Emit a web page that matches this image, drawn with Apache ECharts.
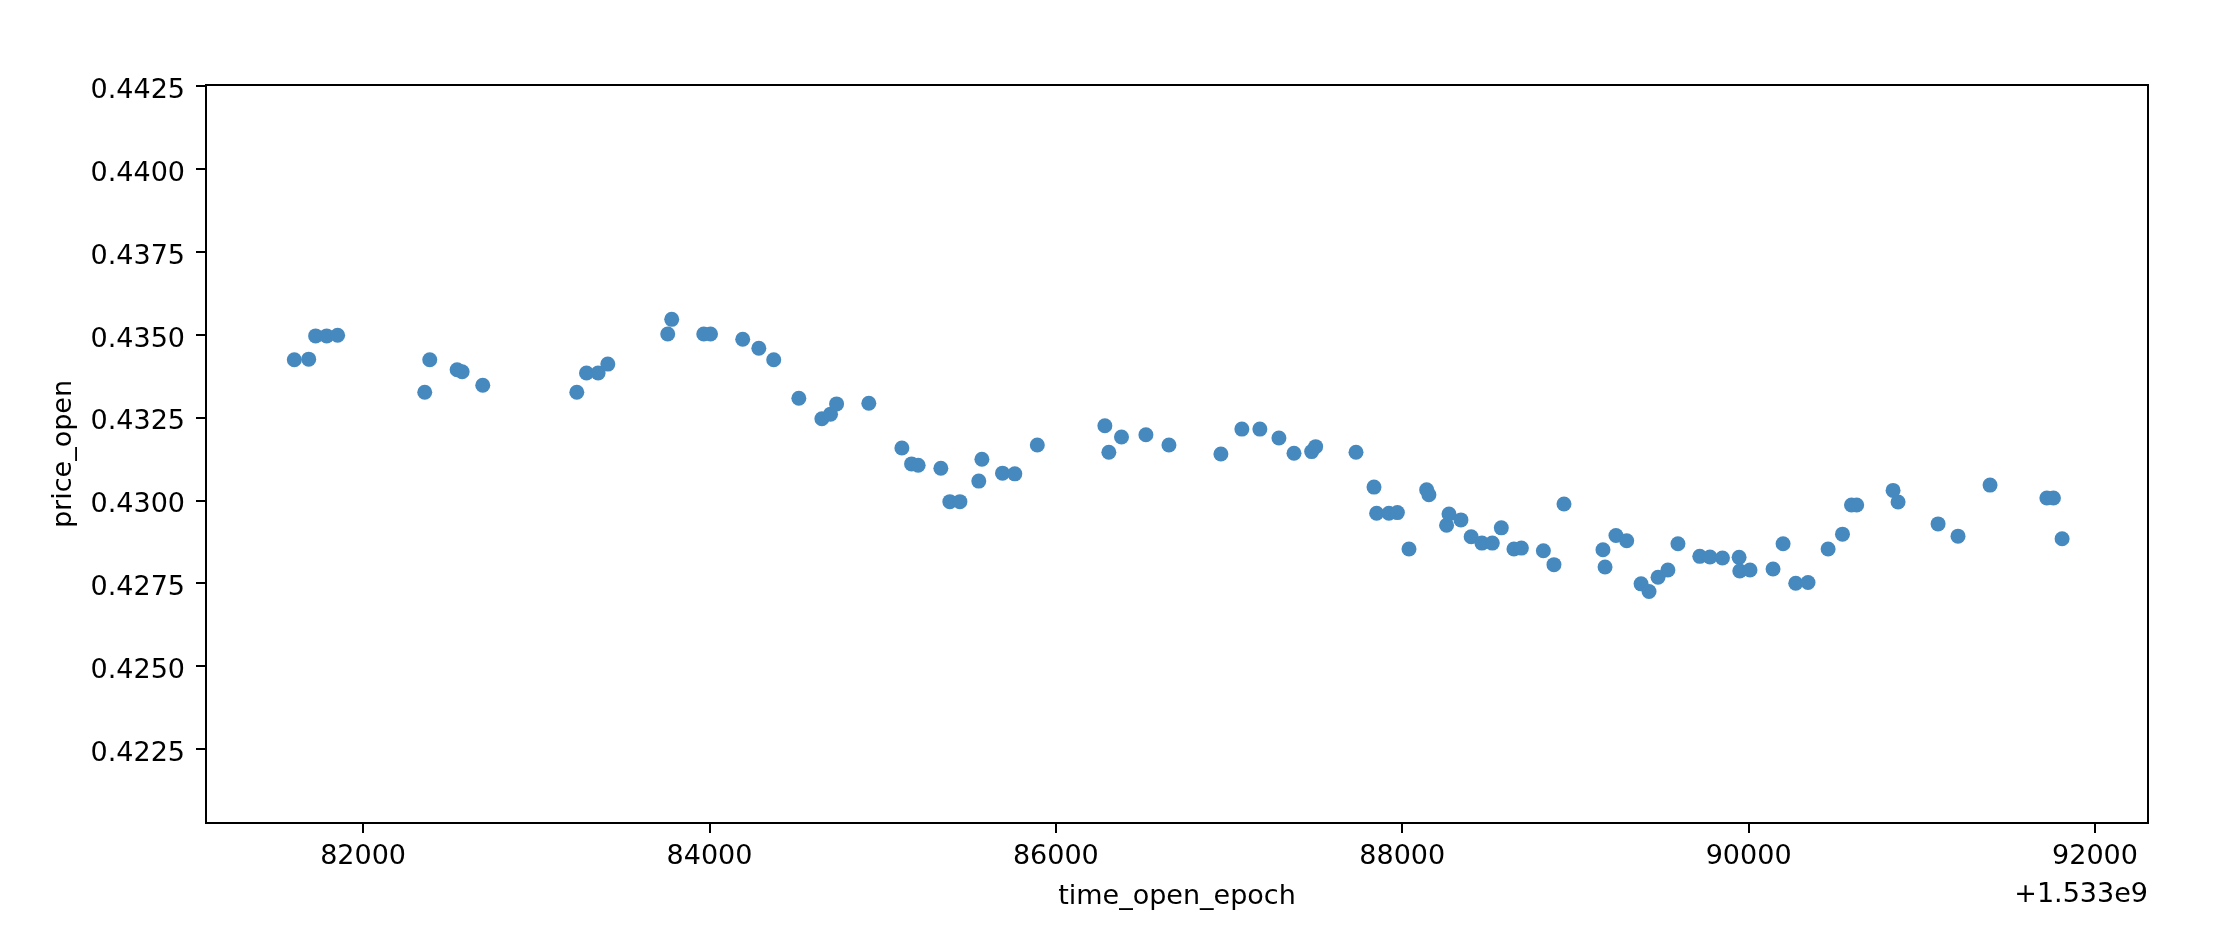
<!DOCTYPE html>
<html lang="en">

<head>
    <meta charset="UTF-8">
    <title>price_open vs time_open_epoch</title>
    <style>
        html,
        body {
            margin: 0;
            padding: 0;
            background: #fff;
        }

        .box {
            width: 2214px;
            height: 930px;
        }
    </style>
</head>

<body>
    <div class="box"></div>

    <script src="https://cdn.jsdelivr.net/npm/echarts@6/dist/echarts.min.js"></script>
    <script>
        // x values are shown with an offset of +1.533e9
        const BASE = 1533000000;
        const timeOffset = [
            81603, 81686, 81726, 81790, 81853, 82356, 82385, 82543, 82572, 82691,
            83234, 83290, 83357, 83413, 83759, 83782, 83967, 84006, 84192, 84285,
            84371, 84516, 84649, 84699, 84734, 84920, 85111, 85167, 85205, 85336,
            85388, 85446, 85555, 85573, 85692, 85763, 85893, 86283, 86306, 86379,
            86520, 86653, 86953, 87074, 87178, 87288, 87375, 87477, 87500, 87733,
            87837, 87852, 87923, 87972, 88039, 88141, 88154, 88256, 88270, 88339,
            88398, 88460, 88520, 88572, 88645, 88688, 88815, 88876, 88934, 89159,
            89171, 89234, 89296, 89379, 89425, 89477, 89534, 89592, 89718, 89777,
            89849, 89945, 89949, 90008, 90141, 90199, 90272, 90343, 90459, 90542,
            90594, 90624, 90834, 90863, 91094, 91209, 91394, 91722, 91760, 91810
        ];
        const priceOpen = [
            0.43424, 0.43426, 0.43496, 0.43496, 0.43498, 0.43326, 0.43424, 0.43394, 0.43388, 0.43347,
            0.43326, 0.43384, 0.43384, 0.43411, 0.43502, 0.43546, 0.43502, 0.43502, 0.43486, 0.43459,
            0.43424, 0.43308, 0.43246, 0.43260, 0.43291, 0.43293, 0.43158, 0.43110, 0.43106, 0.43097,
            0.42996, 0.42996, 0.43058, 0.43124, 0.43082, 0.43080, 0.43167, 0.43225, 0.43145, 0.43191,
            0.43198, 0.43167, 0.43140, 0.43215, 0.43215, 0.43188, 0.43142, 0.43147, 0.43162, 0.43145,
            0.43040, 0.42961, 0.42961, 0.42963, 0.42853, 0.43032, 0.43017, 0.42925, 0.42959, 0.42941,
            0.42890, 0.42871, 0.42871, 0.42917, 0.42853, 0.42856, 0.42848, 0.42806, 0.42989, 0.42851,
            0.42799, 0.42894, 0.42878, 0.42748, 0.42725, 0.42768, 0.42790, 0.42869, 0.42831, 0.42829,
            0.42826, 0.42828, 0.42787, 0.42790, 0.42793, 0.42869, 0.42750, 0.42752, 0.42853, 0.42898,
            0.42986, 0.42986, 0.43030, 0.42995, 0.42929, 0.42892, 0.43046, 0.43007, 0.43007, 0.42884
        ];
        const xTickValues = [82000, 84000, 86000, 88000, 90000, 92000];
        const yTickValues = [0.4225, 0.4250, 0.4275, 0.4300, 0.4325, 0.4350, 0.4375, 0.4400, 0.4425];

        let myChart = echarts.init(document.querySelector(".box"));
        let points = timeOffset.map(function (t, i) {
            return [BASE + t, priceOpen[i]];
        });

        const font = "DejaVu Sans";
        const axisColor = "#000";

        option = {
            backgroundColor: "#fff",
            animation: false,
            textStyle: {
                fontFamily: font,
                color: axisColor
            },
            grid: {
                left: 206,
                right: 66,
                top: 85,
                bottom: 107,
                show: true,
                borderColor: axisColor,
                borderWidth: 2,
                outerBoundsMode: "none"
            },
            xAxis: {
                type: "value",
                min: BASE + 81093,
                max: BASE + 92306,
                name: "time_open_epoch",
                nameLocation: "middle",
                nameGap: 60,
                nameTextStyle: {
                    fontFamily: font,
                    fontSize: 27,
                    color: axisColor
                },
                axisLine: {
                    lineStyle: { color: axisColor, width: 2 }
                },
                axisTick: {
                    customValues: xTickValues.map(function (v) { return BASE + v; }),
                    length: 10,
                    lineStyle: { color: axisColor, width: 2 }
                },
                axisLabel: {
                    customValues: xTickValues.map(function (v) { return BASE + v; }),
                    margin: 20,
                    fontFamily: font,
                    fontSize: 27,
                    color: axisColor,
                    formatter: function (v) {
                        return String(Math.round(v - BASE));
                    }
                },
                splitLine: {
                    show: false
                }
            },
            yAxis: {
                type: "value",
                min: 0.420266,
                max: 0.44253,
                name: "price_open",
                nameLocation: "middle",
                nameRotate: 90,
                nameGap: 129,
                nameTextStyle: {
                    fontFamily: font,
                    fontSize: 27,
                    color: axisColor
                },
                axisLine: {
                    show: true,
                    lineStyle: { color: axisColor, width: 2 }
                },
                axisTick: {
                    show: true,
                    customValues: yTickValues,
                    length: 10,
                    lineStyle: { color: axisColor, width: 2 }
                },
                axisLabel: {
                    customValues: yTickValues,
                    margin: 21,
                    fontFamily: font,
                    fontSize: 27,
                    color: axisColor,
                    // matplotlib puts the digits a bit lower than the tick
                    formatter: function (v) {
                        return "{v|" + v.toFixed(4) + "}";
                    },
                    rich: {
                        v: {
                            fontFamily: font,
                            fontSize: 27,
                            color: axisColor,
                            padding: [10, 0, 0, 0]
                        }
                    }
                },
                splitLine: {
                    show: false
                }
            },
            graphic: [{
                // offset text under the x axis, like matplotlib does
                type: "text",
                right: 66,
                top: 881,
                style: {
                    text: "+1.533e9",
                    font: "27px DejaVu Sans",
                    fill: axisColor
                }
            }],
            series: [{
                name: "price_open",
                type: "scatter",
                data: points,
                symbolSize: 15,
                itemStyle: {
                    color: "#4589bf",
                    opacity: 1
                }
            }]
        };
        myChart.setOption(option);
    </script>
</body>

</html>
